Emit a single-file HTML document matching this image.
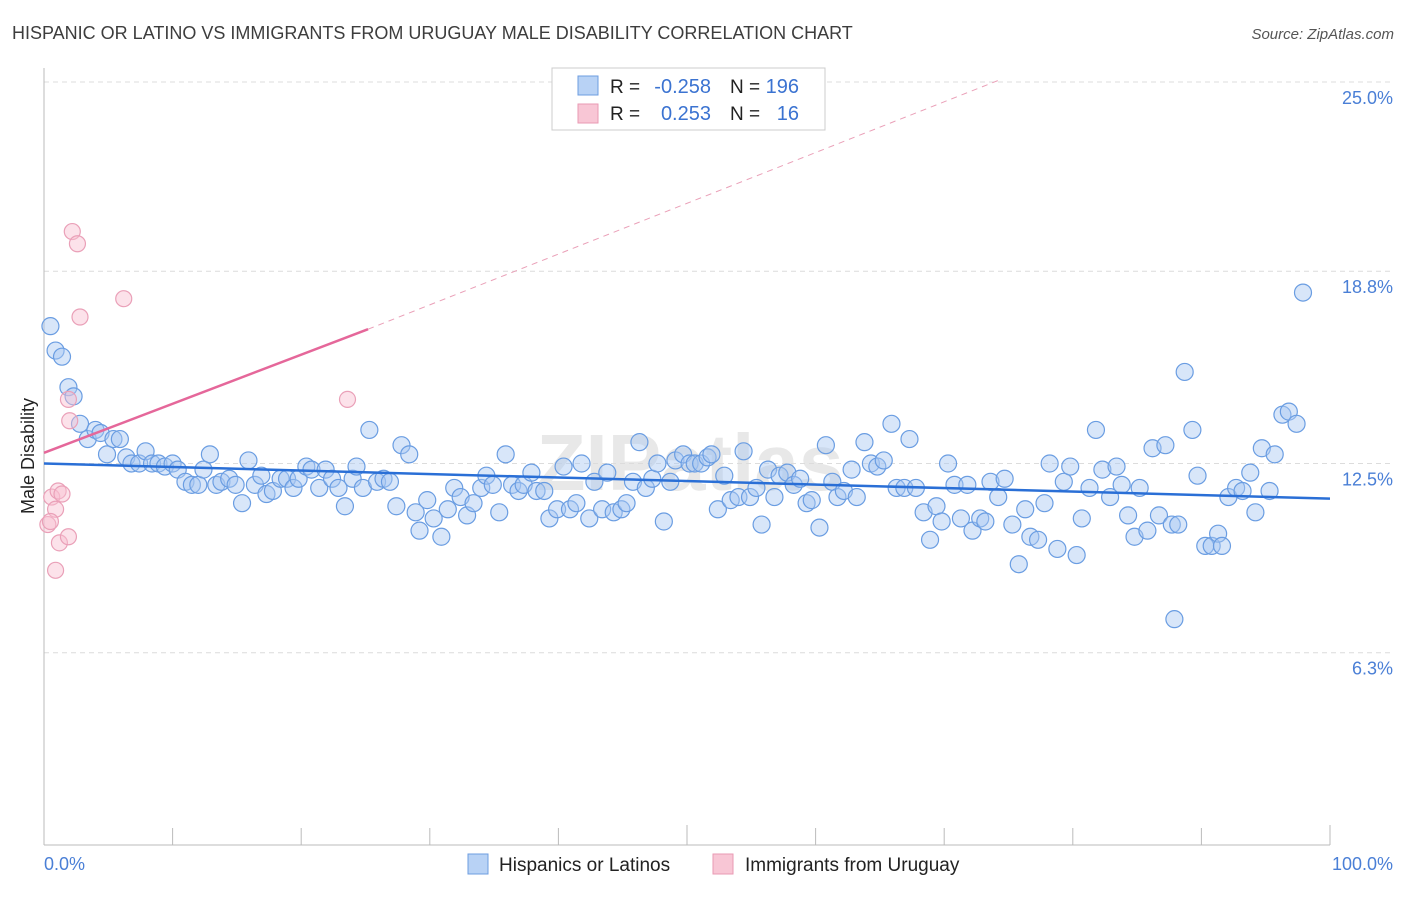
<!DOCTYPE html>
<html><head><meta charset="utf-8">
<style>
body{margin:0;background:#fff;font-family:"Liberation Sans",sans-serif;}
svg text{font-family:"Liberation Sans",sans-serif;}
</style></head>
<body>
<svg id="chart" width="1406" height="892" xmlns="http://www.w3.org/2000/svg">
<text x="12" y="39" font-size="18" fill="#3d3d3d">HISPANIC OR LATINO VS IMMIGRANTS FROM URUGUAY MALE DISABILITY CORRELATION CHART</text>
<text x="1394" y="39" font-size="15" fill="#555" text-anchor="end" font-style="italic">Source: ZipAtlas.com</text>
<text x="690" y="490" font-size="80" fill="#e8e8e8" text-anchor="middle" font-weight="bold">ZIPatlas</text>
<g id="grid"></g>
<g id="axes"></g>
<g id="pts"></g>
<g id="trend"></g>
<text transform="translate(34,456) rotate(-90)" font-size="18" fill="#222" text-anchor="middle">Male Disability</text>
<text x="44" y="870" font-size="18" fill="#4a7fd6">0.0%</text>
<text x="1393" y="870" font-size="18" fill="#4a7fd6" text-anchor="end">100.0%</text>
<g>
<rect x="552" y="68" width="273" height="62" fill="#fff" stroke="#ccc"/>
<rect x="578" y="76" width="20" height="19" fill="#b8d2f5" stroke="#6d9de0"/>
<rect x="578" y="104" width="20" height="19" fill="#f8c6d5" stroke="#e99ab3"/>
<text x="610" y="93" font-size="19" fill="#222">R =</text>
<text x="711" y="93" font-size="20" fill="#3b73d1" text-anchor="end">-0.258</text>
<text x="730" y="93" font-size="19" fill="#222">N =</text>
<text x="799" y="93" font-size="20" fill="#3b73d1" text-anchor="end">196</text>
<text x="610" y="120" font-size="19" fill="#222">R =</text>
<text x="711" y="120" font-size="20" fill="#3b73d1" text-anchor="end">0.253</text>
<text x="730" y="120" font-size="19" fill="#222">N =</text>
<text x="799" y="120" font-size="20" fill="#3b73d1" text-anchor="end">16</text>
</g>
<g>
<rect x="468" y="854" width="20" height="20" fill="#b8d2f5" stroke="#6d9de0"/>
<text x="499" y="871" font-size="19" fill="#222">Hispanics or Latinos</text>
<rect x="713" y="854" width="20" height="20" fill="#f8c6d5" stroke="#e99ab3"/>
<text x="745" y="871" font-size="19" fill="#222">Immigrants from Uruguay</text>
</g>
</svg>
<script>
const yTicks=[25.0,18.8,12.5,6.3];
const yTickLabels=["25.0%","18.8%","12.5%","6.3%"];
const xTicks=[0,10,20,30,40,50,60,70,80,90,100];
const blueX=[0.5,0.9,1.4,1.9,2.3,2.8,3.4,4.0,4.4,4.9,5.4,5.9,6.4,6.8,7.4,7.9,8.4,8.9,9.4,10.0,10.4,11.0,11.5,12.0,12.4,12.9,13.4,13.8,14.4,14.9,15.4,15.9,16.4,16.9,17.3,17.8,18.4,18.9,19.4,19.8,20.4,20.8,21.4,21.9,22.4,22.9,23.4,24.0,24.3,24.8,25.3,25.9,26.4,26.9,27.4,27.8,28.4,28.9,29.2,29.8,30.3,30.9,31.4,31.9,32.4,32.9,33.4,34.0,34.4,34.9,35.4,35.9,36.4,36.9,37.3,37.9,38.3,38.9,39.3,39.9,40.4,40.9,41.4,41.8,42.4,42.8,43.4,43.8,44.3,44.9,45.3,45.8,46.3,46.8,47.3,47.7,48.2,48.7,49.1,49.7,50.2,50.6,51.1,51.6,51.9,52.4,52.9,53.4,54.0,54.4,54.9,55.4,55.8,56.3,56.8,57.2,57.8,58.3,58.8,59.3,59.7,60.3,60.8,61.3,61.7,62.2,62.8,63.2,63.8,64.3,64.8,65.3,65.9,66.3,66.9,67.3,67.8,68.4,68.9,69.4,69.8,70.3,70.8,71.3,71.8,72.2,72.8,73.2,73.6,74.2,74.7,75.3,75.8,76.3,76.7,77.3,77.8,78.2,78.8,79.3,79.8,80.3,80.7,81.3,81.8,82.3,82.9,83.4,83.8,84.3,84.8,85.2,85.8,86.2,86.7,87.2,87.7,88.2,88.7,89.3,89.7,90.3,90.8,91.3,91.6,92.1,92.7,93.2,93.8,94.2,94.7,95.3,95.7,96.3,96.8,97.4,97.9,87.9];
const blueY=[17.0,16.2,16.0,15.0,14.7,13.8,13.3,13.6,13.5,12.8,13.3,13.3,12.7,12.5,12.5,12.9,12.5,12.5,12.4,12.5,12.3,11.9,11.8,11.8,12.3,12.8,11.8,11.9,12.0,11.8,11.2,12.6,11.8,12.1,11.5,11.6,12.0,12.0,11.7,12.0,12.4,12.3,11.7,12.3,12.0,11.7,11.1,12.0,12.4,11.7,13.6,11.9,12.0,11.9,11.1,13.1,12.8,10.9,10.3,11.3,10.7,10.1,11.0,11.7,11.4,10.8,11.2,11.7,12.1,11.8,10.9,12.8,11.8,11.6,11.8,12.2,11.6,11.6,10.7,11.0,12.4,11.0,11.2,12.5,10.7,11.9,11.0,12.2,10.9,11.0,11.2,11.9,13.2,11.7,12.0,12.5,10.6,11.9,12.6,12.8,12.5,12.5,12.5,12.7,12.8,11.0,12.1,11.3,11.4,12.9,11.4,11.7,10.5,12.3,11.4,12.1,12.2,11.8,12.0,11.2,11.3,10.4,13.1,11.9,11.4,11.6,12.3,11.4,13.2,12.5,12.4,12.6,13.8,11.7,11.7,13.3,11.7,10.9,10.0,11.1,10.6,12.5,11.8,10.7,11.8,10.3,10.7,10.6,11.9,11.4,12.0,10.5,9.2,11.0,10.1,10.0,11.2,12.5,9.7,11.9,12.4,9.5,10.7,11.7,13.6,12.3,11.4,12.4,11.8,10.8,10.1,11.7,10.3,13.0,10.8,13.1,10.5,10.5,15.5,13.6,12.1,9.8,9.8,10.2,9.8,11.4,11.7,11.6,12.2,10.9,13.0,11.6,12.8,14.1,14.2,13.8,18.1,7.4];
const pinkX=[0.6,0.9,1.1,1.4,0.3,0.5,0.9,1.2,1.9,2.2,2.6,2.8,6.2,1.9,2.0,23.6];
const pinkY=[11.4,11.0,11.6,11.5,10.5,10.6,9.0,9.9,10.1,20.1,19.7,17.3,17.9,14.6,13.9,14.6];
const blueTrend=[[0,12.5],[100,11.35]];
const pinkTrendSolid=[[0,12.85],[25.2,16.9]];
const pinkTrendDash=[[25.2,16.9],[74.5,25.1]];

const NS="http://www.w3.org/2000/svg";
const X0=44,X1=1330,Y0=845,YTOP=82;
const sx=v=>X0+(X1-X0)*v/100;
const sy=v=>Y0-(Y0-YTOP)*v/25;
function mk(tag,attrs,parent){const e=document.createElementNS(NS,tag);for(const k in attrs)e.setAttribute(k,attrs[k]);document.getElementById(parent).appendChild(e);return e;}

yTicks.forEach((t,i)=>{
  const l=mk('line',{x1:X0,x2:1394,y1:sy(t),y2:sy(t),stroke:'#dcdcdc','stroke-dasharray':'5,4'},'grid');
  
  
  const tx=mk('text',{x:1393,y:sy(t)+22,'font-size':18,fill:'#4a7fd6','text-anchor':'end'},'grid');
  tx.textContent=yTickLabels[i];
  
  
});
const ya=mk('line',{x1:X0,x2:X0,y1:68,y2:Y0,stroke:'#bbb'},'axes');


const xa=mk('line',{x1:X0,x2:X1,y1:Y0,y2:Y0,stroke:'#bbb'},'axes');


xTicks.forEach(t=>{
  const l=mk('line',{x1:sx(t),x2:sx(t),y1:Y0,y2:Y0-(t%50===0?20:17),stroke:'#bbb'},'axes');
  
  
});
blueX.forEach((x,i)=>{
  const c=mk('circle',{cx:sx(x),cy:sy(blueY[i]),r:8.5,fill:'rgba(168,200,242,0.45)',stroke:'#6a9de2','stroke-width':1.2},'pts');
  
  
});
pinkX.forEach((x,i)=>{
  const c=mk('circle',{cx:sx(x),cy:sy(pinkY[i]),r:8,fill:'rgba(248,190,208,0.45)',stroke:'#eaa0b8','stroke-width':1.2},'pts');
  
  
});
const bt=mk('line',{x1:sx(blueTrend[0][0]),y1:sy(blueTrend[0][1]),x2:sx(blueTrend[1][0]),y2:sy(blueTrend[1][1]),stroke:'#2a6fd6','stroke-width':2.5},'trend');


const pt=mk('line',{x1:sx(pinkTrendSolid[0][0]),y1:sy(pinkTrendSolid[0][1]),x2:sx(pinkTrendSolid[1][0]),y2:sy(pinkTrendSolid[1][1]),stroke:'#e5679a','stroke-width':2.5},'trend');


const pd=mk('line',{x1:sx(pinkTrendDash[0][0]),y1:sy(pinkTrendDash[0][1]),x2:sx(pinkTrendDash[1][0]),y2:sy(pinkTrendDash[1][1]),stroke:'#eaa0b8','stroke-width':1,'stroke-dasharray':'6,5'},'trend');


</script>
</body></html>
